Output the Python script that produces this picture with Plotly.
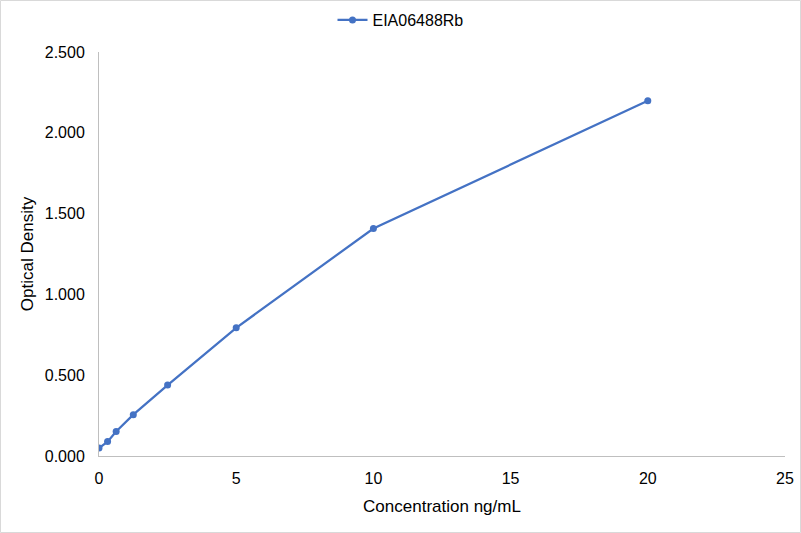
"""
Standard curve for EIA06488Rb: optical density vs concentration.
"""

import plotly.graph_objects as go

SERIES_NAME = "EIA06488Rb"
concentration = [0, 0.3125, 0.625, 1.25, 2.5, 5, 10, 20]
optical_density = [0.049, 0.089, 0.152, 0.256, 0.439, 0.793, 1.408, 2.198]

X_TICKS = [0, 5, 10, 15, 20, 25]
Y_TICKS = [0, 0.5, 1.0, 1.5, 2.0, 2.5]

BLUE = "#4472C4"
AXIS_GRAY = "#BFBFBF"
FONT = "Liberation Sans, Arial, sans-serif"

W, H = 801, 533
M_L, M_R, M_T, M_B = 99, 16, 52, 77

fig = go.Figure()
fig.add_trace(
    go.Scatter(
        x=concentration,
        y=optical_density,
        mode="lines+markers",
        name=SERIES_NAME,
        line=dict(color=BLUE, width=2.25),
        marker=dict(color=BLUE, size=7),
    )
)

plot_w = W - M_L - M_R
plot_h = H - M_T - M_B

fig.update_layout(
    width=W,
    height=H,
    margin=dict(l=M_L, r=M_R, t=M_T, b=M_B, pad=0, autoexpand=False),
    paper_bgcolor="white",
    plot_bgcolor="white",
    font=dict(family=FONT, size=16, color="#000000"),
    showlegend=True,
    # centred on the whole chart, not the plot area
    legend=dict(
        orientation="h",
        x=(W / 2 - M_L) / plot_w,
        xanchor="center",
        y=1 + (M_T - 20) / plot_h,
        yanchor="middle",
        font=dict(size=16),
    ),
    xaxis=dict(
        range=[0, 25],
        tickvals=X_TICKS,
        showgrid=False,
        zeroline=False,
        showline=True,
        linecolor=AXIS_GRAY,
        linewidth=1,
        ticks="",
        ticklabelstandoff=8,
        title=dict(text="Concentration ng/mL", standoff=13, font=dict(size=17)),
    ),
    yaxis=dict(
        range=[0, 2.5],
        tickvals=Y_TICKS,
        tickformat=".3f",
        showgrid=False,
        zeroline=False,
        showline=True,
        linecolor=AXIS_GRAY,
        linewidth=1,
        ticks="",
        ticklabelstandoff=10,
        title=dict(text="Optical Density", standoff=6, font=dict(size=17)),
    ),
    # thin border round the whole chart
    shapes=[
        dict(
            type="rect",
            xref="paper",
            yref="paper",
            x0=-(M_L - 0.5) / plot_w,
            x1=1 + (M_R - 0.5) / plot_w,
            y0=-(M_B - 0.5) / plot_h,
            y1=1 + (M_T - 0.5) / plot_h,
            line=dict(color="#D9D9D9", width=1),
            layer="below",
        )
    ],
)

# drop the browser's default body margin so the chart sits at the window's corner
fig.write_html(
    "out.html",
    config={"displayModeBar": False},
    post_script="document.body.style.margin = '0';",
)
